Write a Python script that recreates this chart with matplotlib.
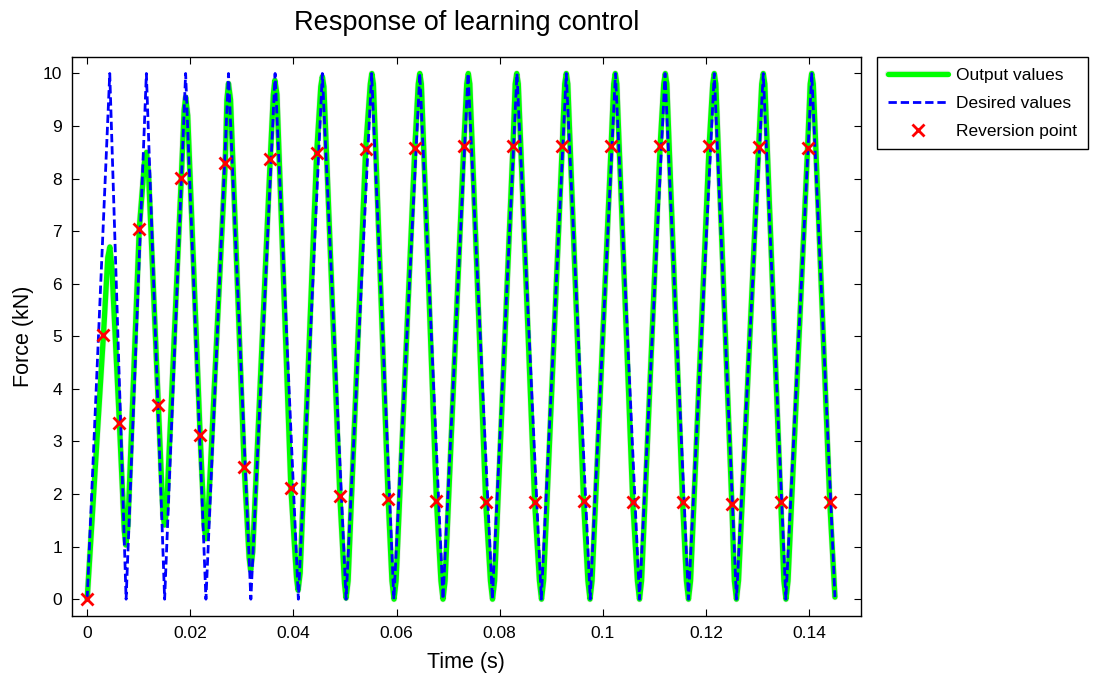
import matplotlib.pyplot as plt
import matplotlib.patheffects as pe
from matplotlib.ticker import FormatStrFormatter, MultipleLocator

plt.rcParams['font.family'] = ['Liberation Sans', 'DejaVu Sans']

# Desired values: triangle wave, alternating troughs and peaks
t_desired = [0, 0.00438, 0.00755, 0.01148, 0.01502, 0.01909, 0.02303, 0.0274,
             0.03174, 0.03644, 0.04095, 0.0456, 0.0502, 0.05516, 0.05947, 0.0645,
             0.069, 0.07386, 0.07857, 0.08334, 0.08806, 0.0929, 0.09754, 0.10244,
             0.1071, 0.11205, 0.1166, 0.1216, 0.1259, 0.1311, 0.13548, 0.1405, 0.1450]
f_desired = [0, 10, 0, 10, 0, 10, 0, 10, 0, 10, 0, 10, 0, 10, 0, 10,
             0, 10, 0, 10, 0, 10, 0, 10, 0, 10, 0, 10, 0, 10, 0, 10, 0.04]

# Output values (measured force), one row per cycle
t_output = [0, 0.00315, 0.0040, 0.0044, 0.0048, 0.00625, 0.0072, 0.0075,
            0.0079, 0.0101, 0.0111, 0.0115, 0.0119, 0.0138, 0.0147, 0.0150,
            0.0154, 0.01825, 0.0188, 0.0191, 0.0195, 0.0219, 0.0227, 0.0230,
            0.0234, 0.02677, 0.0271, 0.0274, 0.0278, 0.03045, 0.0314, 0.0317,
            0.0321, 0.0355, 0.0361, 0.0364, 0.0368, 0.0395, 0.0406, 0.0409,
            0.0413, 0.0445, 0.0453, 0.0456, 0.0459, 0.0490, 0.0499, 0.0502,
            0.0506, 0.0540, 0.0549, 0.0552, 0.0555, 0.05837, 0.0591, 0.0595,
            0.0599, 0.06354, 0.0642, 0.0645, 0.0648, 0.06773, 0.0686, 0.0690,
            0.0694, 0.07302, 0.0736, 0.0739, 0.0742, 0.07728, 0.0782, 0.0786,
            0.0790, 0.08257, 0.0830, 0.0833, 0.0836, 0.08677, 0.0877, 0.0881,
            0.0885, 0.09212, 0.0926, 0.0929, 0.0932, 0.09625, 0.0971, 0.0975,
            0.0979, 0.1016, 0.1021, 0.1024, 0.1027, 0.1058, 0.1067, 0.1071,
            0.1075, 0.1111, 0.1118, 0.1121, 0.1124, 0.11546, 0.1162, 0.1166,
            0.1170, 0.1206, 0.1213, 0.1216, 0.1219, 0.1250, 0.1255, 0.1259,
            0.1263, 0.1302, 0.1308, 0.1311, 0.1314, 0.1345, 0.1351, 0.1355,
            0.1359, 0.1397, 0.1402, 0.1405, 0.1408, 0.1440, 0.1450]
f_output = [0, 5.02, 6.5, 6.7, 6.3, 3.35, 1.3, 1.03,
            1.4, 7.04, 8.3, 8.5, 8.1, 3.69, 1.6, 1.41,
            1.7, 8.01, 9.3, 9.55, 9.2, 3.12, 1.4, 1.15,
            1.5, 8.29, 9.5, 9.81, 9.5, 2.51, 0.8, 0.55,
            0.9, 8.37, 9.6, 9.87, 9.6, 2.11, 0.4, 0.17,
            0.5, 8.48, 9.75, 9.94, 9.75, 1.96, 0.3, 0.02,
            0.35, 8.56, 9.8, 10.0, 9.8, 1.90, 0.35, 0.0,
            0.35, 8.59, 9.8, 10.0, 9.8, 1.87, 0.35, 0.0,
            0.35, 8.62, 9.8, 10.0, 9.8, 1.85, 0.35, 0.0,
            0.35, 8.62, 9.8, 10.0, 9.8, 1.85, 0.35, 0.0,
            0.35, 8.62, 9.8, 10.0, 9.8, 1.87, 0.35, 0.0,
            0.35, 8.62, 9.8, 10.0, 9.8, 1.84, 0.35, 0.0,
            0.35, 8.62, 9.8, 10.0, 9.8, 1.84, 0.35, 0.0,
            0.35, 8.62, 9.8, 10.0, 9.8, 1.82, 0.35, 0.0,
            0.35, 8.60, 9.8, 10.0, 9.8, 1.84, 0.35, 0.0,
            0.35, 8.59, 9.8, 10.0, 9.8, 1.84, 0.04]

# Reversion points
t_rev = [0, 0.00315, 0.00625, 0.0101, 0.0138, 0.01825, 0.0219, 0.02677, 0.03045,
         0.0355, 0.0395, 0.0445, 0.049, 0.054, 0.05837, 0.06354, 0.06773, 0.07302,
         0.07728, 0.08257, 0.08677, 0.09212, 0.09625, 0.1016, 0.1058, 0.1111,
         0.11546, 0.1206, 0.125, 0.1302, 0.1345, 0.1397, 0.144]
f_rev = [0, 5.02, 3.35, 7.04, 3.69, 8.01, 3.12, 8.29, 2.51,
         8.37, 2.11, 8.48, 1.96, 8.56, 1.90, 8.59, 1.87, 8.62,
         1.85, 8.62, 1.85, 8.62, 1.87, 8.62, 1.84, 8.62,
         1.84, 8.62, 1.82, 8.60, 1.84, 8.59, 1.84]

fig = plt.figure(figsize=(10.93, 6.77), dpi=100)
ax = fig.add_axes([0.0656, 0.0901, 0.7219, 0.8262])

ax.plot(t_output, f_output, color='#00ff00', lw=3.8, label='Output values',
        solid_joinstyle='round', solid_capstyle='round',
        path_effects=[pe.Stroke(linewidth=4.6, foreground='#dde6dd'), pe.Normal()])
ax.plot(t_desired, f_desired, color='#0000ff', lw=2.0, linestyle=(0, (3, 1.4)),
        label='Desired values')
ax.plot(t_rev, f_rev, linestyle='none', marker='x', color='#ff0000',
        markersize=9, markeredgewidth=2, label='Reversion point')

ax.set_xlim(-0.003, 0.15)
ax.set_ylim(-0.32, 10.32)
ax.xaxis.set_major_locator(MultipleLocator(0.02))
ax.yaxis.set_major_locator(MultipleLocator(1))
ax.xaxis.set_major_formatter(FormatStrFormatter('%g'))
ax.tick_params(direction='in', top=True, right=True, length=5, width=0.8,
               labelsize=12.5, pad=7)
for s in ax.spines.values():
    s.set_linewidth(1.0)

ax.set_xlabel('Time (s)', fontsize=15.5, labelpad=8)
ax.set_ylabel('Force (kN)', fontsize=15.5, labelpad=6)
ax.set_title('Response of learning control', fontsize=19.5, pad=19)

leg = ax.legend(loc='upper left', bbox_to_anchor=(1.021, 1.0), fontsize=12.5,
                frameon=True, fancybox=False, edgecolor='black', framealpha=1,
                borderaxespad=0, handlelength=3.45, handletextpad=0.46,
                borderpad=0.62, labelspacing=0.74)
leg.get_frame().set_linewidth(1.0)

fig.savefig('out.png', dpi=100)
